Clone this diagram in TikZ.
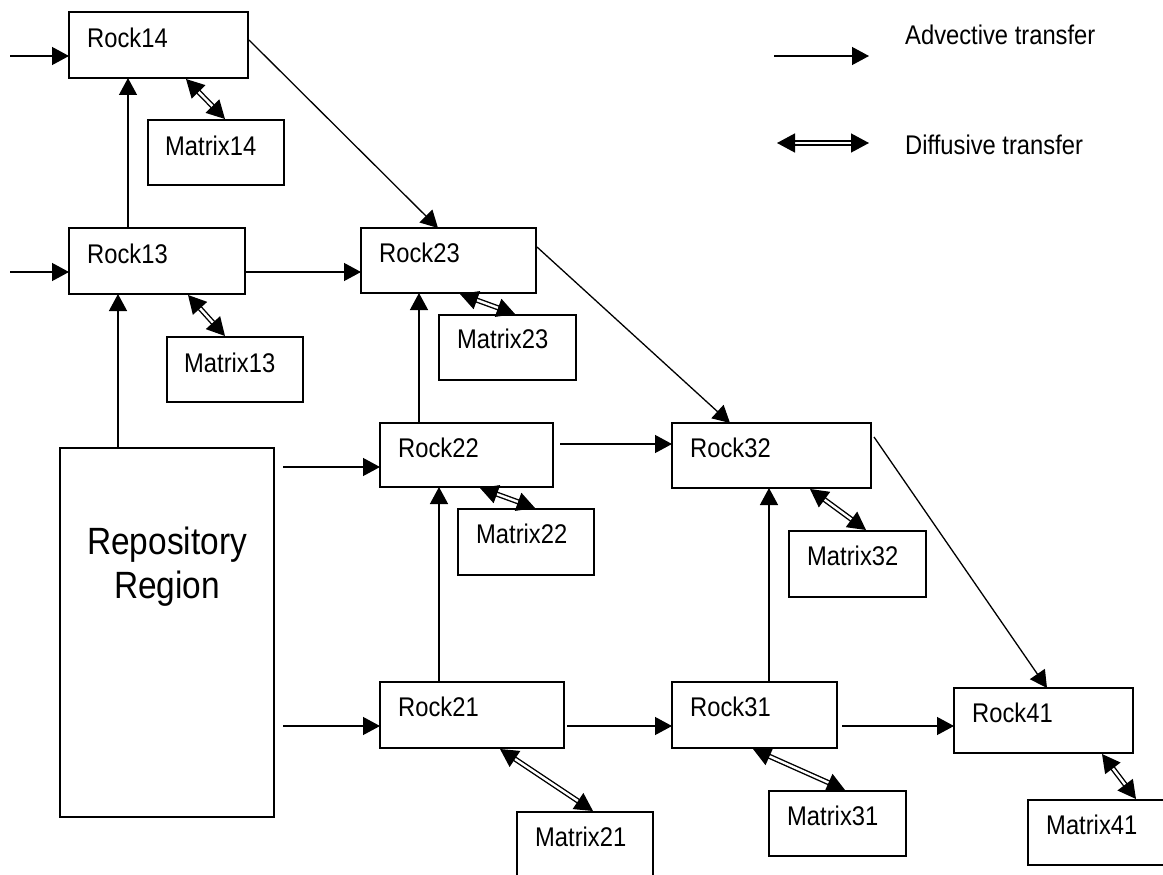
\documentclass[tikz,border=0pt]{standalone}
\usepackage{fontspec}
\setmainfont{Liberation Sans}[FakeStretch=0.88]
\usetikzlibrary{arrows.meta}

\tikzset{
  cell/.style={draw=black, line width=1.4pt, rectangle, fill=white,
    anchor=north west, inner sep=0pt, outer sep=0pt},
  lbl/.style={anchor=base west, inner sep=0pt, font=\fontsize{27}{31}\selectfont},
  bigtext/.style={anchor=base, inner sep=0pt, font=\fontsize{38}{44}\selectfont},
  adv/.style={draw=black, line width=1.3pt, -{Triangle[length=17pt,width=18pt]}},
  dif/.style={draw=black, line width=1.4pt, double=white, double distance=2.4pt,
    {Triangle[length=18pt,width=19pt]}-{Triangle[length=18pt,width=19pt]}},
}

\begin{document}
\begin{tikzpicture}[x=1pt, y=-1pt]
\clip (0,0) rectangle (1163,875);
\fill[white] (0,0) rectangle (1163,875);

% ---- cells ----
\node[cell, minimum width=179pt, minimum height=66pt] (R14) at (69,12) {};
\node[cell, minimum width=136pt, minimum height=65pt] (M14) at (148,120) {};
\node[cell, minimum width=176pt, minimum height=66pt] (R13) at (69,228) {};
\node[cell, minimum width=136pt, minimum height=65pt] (M13) at (167,337) {};
\node[cell, minimum width=175pt, minimum height=65pt] (R23) at (361,228) {};
\node[cell, minimum width=137pt, minimum height=65pt] (M23) at (439,315) {};
\node[cell, minimum width=173pt, minimum height=64pt] (R22) at (380,423) {};
\node[cell, minimum width=136pt, minimum height=66pt] (M22) at (458,509) {};
\node[cell, minimum width=199pt, minimum height=65pt] (R32) at (672,423) {};
\node[cell, minimum width=137pt, minimum height=66pt] (M32) at (789,531) {};
\node[cell, minimum width=184pt, minimum height=66pt] (R21) at (380,682) {};
\node[cell, minimum width=136pt, minimum height=66pt] (M21) at (517,812) {};
\node[cell, minimum width=165pt, minimum height=66pt] (R31) at (672,682) {};
\node[cell, minimum width=137pt, minimum height=65pt] (M31) at (769,791) {};
\node[cell, minimum width=179pt, minimum height=65pt] (R41) at (954,688) {};
\node[cell, minimum width=137pt, minimum height=65pt] (M41) at (1028,800) {};
\node[cell, minimum width=214pt, minimum height=369pt] (Repo) at (60,448) {};

% ---- cell labels ----
\node[lbl] (R14t) at ([shift={(18,36)}]R14.north west) {Rock14};
\node[lbl] (M14t) at ([shift={(17,35)}]M14.north west) {Matrix14};
\node[lbl] (R13t) at ([shift={(18,35)}]R13.north west) {Rock13};
\node[lbl] (M13t) at ([shift={(17,35)}]M13.north west) {Matrix13};
\node[lbl] (R23t) at ([shift={(18,34)}]R23.north west) {Rock23};
\node[lbl] (M23t) at ([shift={(18,33)}]M23.north west) {Matrix23};
\node[lbl] (R22t) at ([shift={(18,34)}]R22.north west) {Rock22};
\node[lbl] (M22t) at ([shift={(18,34)}]M22.north west) {Matrix22};
\node[lbl] (R32t) at ([shift={(18,34)}]R32.north west) {Rock32};
\node[lbl] (M32t) at ([shift={(18,34)}]M32.north west) {Matrix32};
\node[lbl] (R21t) at ([shift={(18,34)}]R21.north west) {Rock21};
\node[lbl] (M21t) at ([shift={(18,34)}]M21.north west) {Matrix21};
\node[lbl] (R31t) at ([shift={(18,34)}]R31.north west) {Rock31};
\node[lbl] (M31t) at ([shift={(18,34)}]M31.north west) {Matrix31};
\node[lbl] (R41t) at ([shift={(18,34)}]R41.north west) {Rock41};
\node[lbl] (M41t) at ([shift={(18,34)}]M41.north west) {Matrix41};
\node[bigtext] (RepoT1) at ([shift={(107,106)}]Repo.north west) {Repository};
\node[bigtext] (RepoT2) at ([shift={(107,150)}]Repo.north west) {Region};

% ---- inflow from the left ----
\coordinate (in14) at (10,56);
\coordinate (in13) at (10,272);
\draw[adv] (in14) -- (in14 -| R14.west);
\draw[adv] (in13) -- (in13 -| R13.west);

% ---- advective transfer ----
\draw[adv] ([shift={(59,0)}]R13.north west) -- ([shift={(59,0)}]R14.south west);
\draw[adv] ([shift={(58,0)}]Repo.north west) -- ([shift={(49,0)}]R13.south west);
\draw[adv] ([shift={(0,44)}]R13.north east) -- ([shift={(0,44)}]R23.north west);
\draw[adv] ([shift={(1,28)}]R14.north east) -- ([shift={(77,0)}]R23.north west);
\draw[adv] ([shift={(1,19)}]R23.north east) -- ([shift={(58,0)}]R32.north west);
\draw[adv] ([shift={(39,0)}]R22.north west) -- ([shift={(58,0)}]R23.south west);
\draw[adv] ([shift={(9,19)}]Repo.north east) -- ([shift={(0,44)}]R22.north west);
\draw[adv] ([shift={(7,21)}]R22.north east) -- ([shift={(0,21)}]R32.north west);
\draw[adv] ([shift={(9,278)}]Repo.north east) -- ([shift={(0,44)}]R21.north west);
\draw[adv] ([shift={(59,0)}]R21.north west) -- ([shift={(59,0)}]R22.south west);
\draw[adv] ([shift={(3,44)}]R21.north east) -- ([shift={(0,44)}]R31.north west);
\draw[adv] ([shift={(97,0)}]R31.north west) -- ([shift={(97,0)}]R32.south west);
\draw[adv] ([shift={(5,44)}]R31.north east) -- ([shift={(0,38)}]R41.north west);
\draw[adv] ([shift={(3,14)}]R32.north east) -- ([shift={(93,0)}]R41.north west);

% ---- diffusive transfer ----
\draw[dif] ([shift={(117,1)}]R14.south west) -- ([shift={(77,-1)}]M14.north west);
\draw[dif] ([shift={(119,1)}]R13.south west) -- ([shift={(58,-1)}]M13.north west);
\draw[dif] ([shift={(99,1)}]R23.south west) -- ([shift={(76,-1)}]M23.north west);
\draw[dif] ([shift={(100,1)}]R22.south west) -- ([shift={(77,-1)}]M22.north west);
\draw[dif] ([shift={(138,1)}]R32.south west) -- ([shift={(77,-1)}]M32.north west);
\draw[dif] ([shift={(120,1)}]R21.south west) -- ([shift={(76,-1)}]M21.north west);
\draw[dif] ([shift={(81,1)}]R31.south west) -- ([shift={(76,-1)}]M31.north west);
\draw[dif] ([shift={(148,1)}]R41.south west) -- ([shift={(108,-1)}]M41.north west);

% ---- legend ----
\coordinate (la1) at (774,56);
\coordinate (la2) at (869,56);
\coordinate (ld1) at (777,143);
\coordinate (ld2) at (869,143);
\draw[adv] (la1) -- (la2);
\draw[dif] (ld1) -- (ld2);
\node[lbl] (advT) at (905,45) {Advective transfer};
\node[lbl] (difT) at (905,154) {Diffusive transfer};
\end{tikzpicture}
\end{document}
